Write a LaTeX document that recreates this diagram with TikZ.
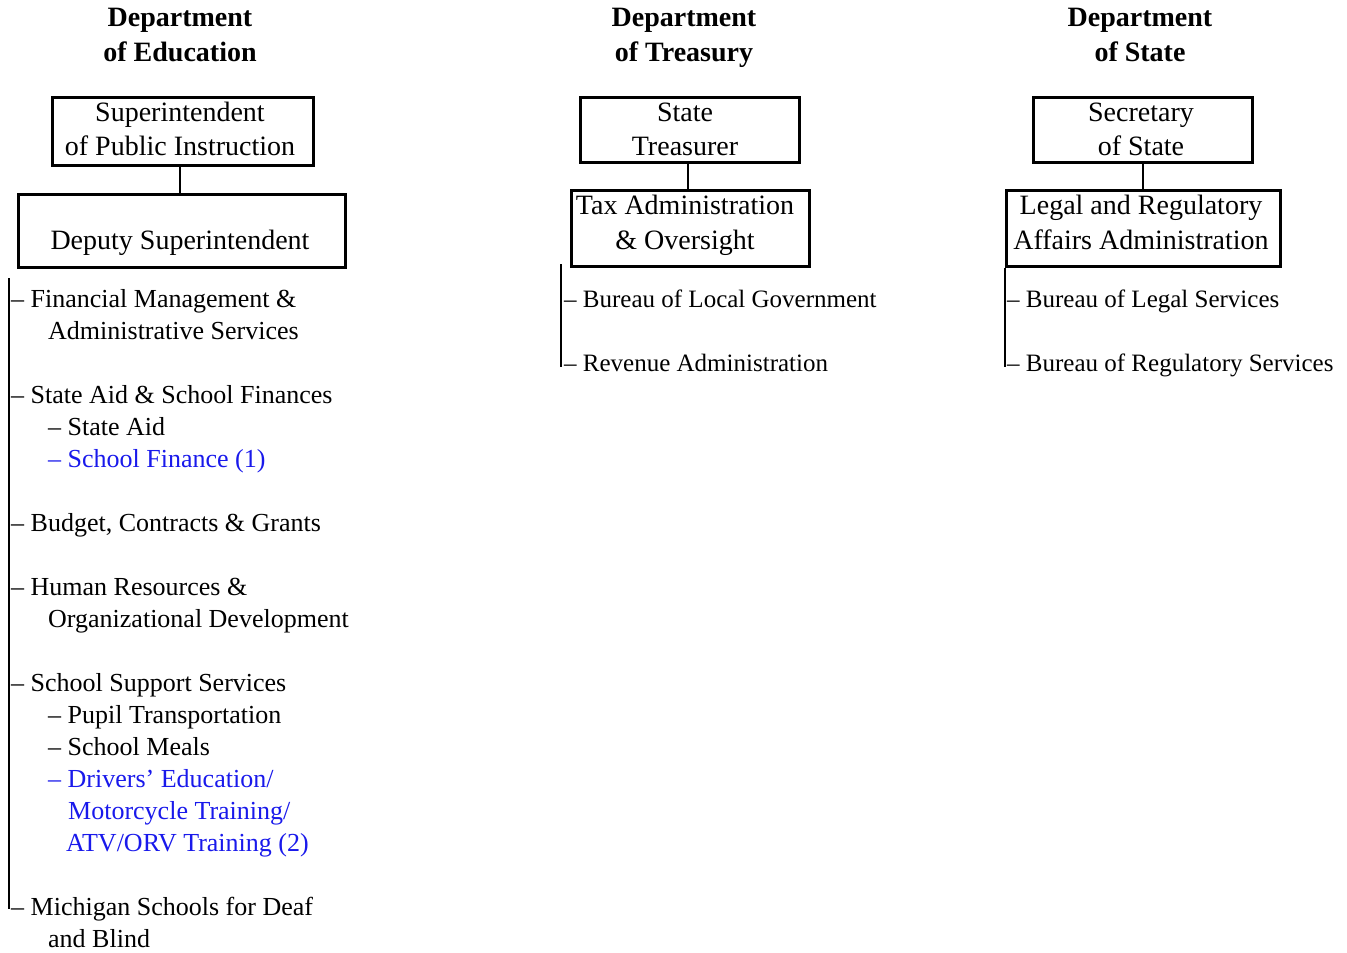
\documentclass[tikz,border=0pt]{standalone}
\usepackage{fontspec}
\setmainfont{Liberation Serif}
\definecolor{linkblue}{RGB}{25,25,235}
\tikzset{
  box/.style={draw, line width=2.6pt, inner sep=0pt, anchor=north west},
  conn/.style={line width=2.6pt},
  txt/.style={anchor=base west, inner sep=0pt, font=\fontsize{26}{30}\selectfont},
  rtxt/.style={anchor=base west, inner sep=0pt, font=\fontsize{25}{30}\selectfont},
  ctxt/.style={anchor=base, inner sep=0pt, font=\fontsize{28}{32}\selectfont},
  head/.style={anchor=base, inner sep=0pt, font=\fontsize{28}{32}\selectfont\bfseries},
  blu/.style={text=linkblue}
}
\begin{document}
\begin{tikzpicture}[x=1pt,y=-1pt]
\useasboundingbox (0,0) rectangle (1347,953);
% headers
\node[head] (h1a) at (180,26) {Department};
\node[head] (h1b) at (180,61) {of Education};
\node[head] (h2a) at (684,26) {Department};
\node[head] (h2b) at (684,61) {of Treasury};
\node[head] (h3a) at (1140,26) {Department};
\node[head] (h3b) at (1140,61) {of State};

% Education boxes
\node[box, minimum width=261pt, minimum height=68pt] (sup) at (51,96) {};
\node[ctxt] (sup1) at (180,121) {Superintendent};
\node[ctxt] (sup2) at (180,155) {of Public Instruction};
\node[box, minimum width=327pt, minimum height=73pt] (dep) at (17,193) {};
\node[ctxt] (dep1) at (180,249) {Deputy Superintendent};
\draw[conn] (180,164) -- (180,193);

% Education list
\coordinate (e0) at (9,278);
\coordinate (e1) at (9,909);
\draw[conn] (e0) -- (e1);
\node[txt] (l1) at (11,307) {– Financial Management \&};
\node[txt] (l1b) at (48,339) {Administrative Services};
\node[txt] (l2) at (11,403) {– State Aid \& School Finances};
\node[txt] (l2a) at (48,435) {– State Aid};
\node[txt, blu] (l2b) at (48,467) {– School Finance (1)};
\node[txt] (l3) at (11,531) {– Budget, Contracts \& Grants};
\node[txt] (l4) at (11,595) {– Human Resources \&};
\node[txt] (l4b) at (48,627) {Organizational Development};
\node[txt] (l5) at (11,691) {– School Support Services};
\node[txt] (l5a) at (48,723) {– Pupil Transportation};
\node[txt] (l5b) at (48,755) {– School Meals};
\node[txt, blu] (l5c) at (48,787) {– Drivers’ Education/};
\node[txt, blu] (l5d) at (68,819) {Motorcycle Training/};
\node[txt, blu] (l5e) at (66,851) {ATV/ORV Training (2)};
\node[txt] (l6) at (11,915) {– Michigan Schools for Deaf};
\node[txt] (l6b) at (48,947) {and Blind};

% Treasury
\node[box, minimum width=219pt, minimum height=65pt] (tre) at (579,96) {};
\node[ctxt] (tre1) at (685,121) {State};
\node[ctxt] (tre2) at (685,155) {Treasurer};
\node[box, minimum width=238pt, minimum height=76pt] (tax) at (570,189) {};
\node[ctxt] (tax1) at (685,214) {Tax Administration};
\node[ctxt] (tax2) at (685,249) {\& Oversight};
\draw[conn] (688,161) -- (688,189);
\coordinate (t0) at (561,264);
\coordinate (t1) at (561,367);
\draw[conn] (t0) -- (t1);
\node[rtxt] (tl1) at (564,307) {– Bureau of Local Government};
\node[rtxt] (tl2) at (564,371) {– Revenue Administration};

% State
\node[box, minimum width=219pt, minimum height=65pt] (sec) at (1032,96) {};
\node[ctxt] (sec1) at (1141,121) {Secretary};
\node[ctxt] (sec2) at (1141,155) {of State};
\node[box, minimum width=274pt, minimum height=76pt] (leg) at (1005,189) {};
\node[ctxt] (leg1) at (1141,214) {Legal and Regulatory};
\node[ctxt] (leg2) at (1141,249) {Affairs Administration};
\draw[conn] (1143,161) -- (1143,189);
\coordinate (s1) at (1005,367);
\draw[conn] (leg.south west) -- (s1);
\node[rtxt] (sl1) at (1007,307) {– Bureau of Legal Services};
\node[rtxt] (sl2) at (1007,371) {– Bureau of Regulatory Services};
\end{tikzpicture}
\end{document}
